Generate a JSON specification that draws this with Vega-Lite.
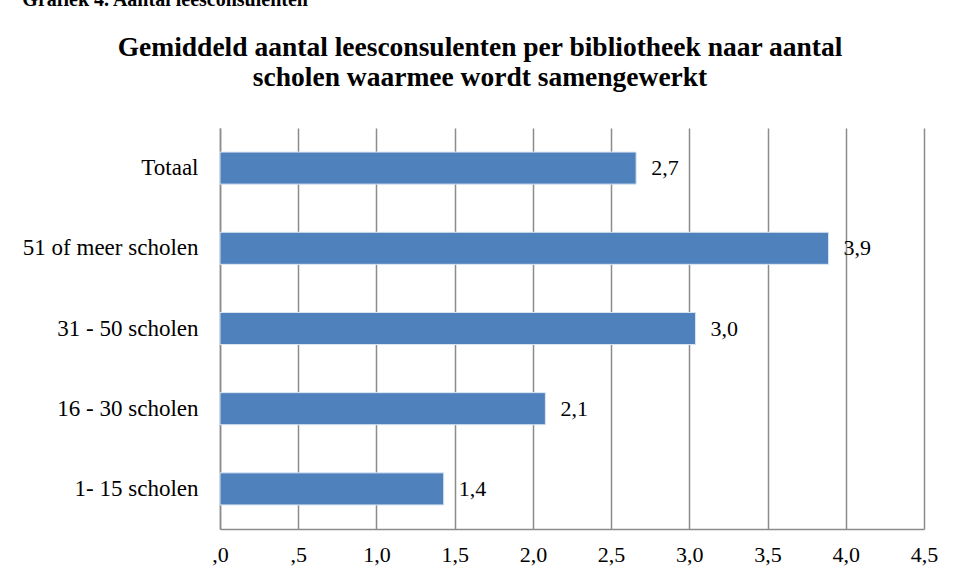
{
  "$schema": "https://vega.github.io/schema/vega-lite/v6.json",
  "padding": {"left": 22, "top": -11, "right": 5, "bottom": 5},
  "background": "white",
  "title": {
    "text": "Grafiek 4. Aantal leesconsulenten",
    "anchor": "start",
    "frame": "bounds",
    "font": "Liberation Serif",
    "fontSize": 20,
    "fontWeight": "bold",
    "color": "#000000",
    "offset": 24
  },
  "config": {
    "font": "Liberation Serif",
    "locale": {"number": {"decimal": ",", "thousands": ".", "grouping": [3], "currency": ["", " €"]}},
    "view": {"stroke": null},
    "axis": {
      "labelFont": "Liberation Serif",
      "labelFontSize": 22,
      "labelColor": "#000000",
      "ticks": false,
      "tickSize": 0,
      "domainColor": "#8c8c8c",
      "domainWidth": 1.5,
      "gridColor": "#8c8c8c",
      "gridWidth": 1.5,
      "title": null
    }
  },
  "vconcat": [
    {
      "width": 704,
      "height": 401,
      "title": {
        "text": ["Gemiddeld aantal leesconsulenten per bibliotheek naar aantal", "scholen waarmee wordt samengewerkt"],
        "anchor": "middle",
        "frame": "bounds",
        "font": "Liberation Serif",
        "fontSize": 27.5,
        "fontWeight": "bold",
        "lineHeight": 30,
        "color": "#000000",
        "offset": 37
      },
      "data": {
        "values": [
          {"groep": "Totaal", "gemiddeld": 2.66},
          {"groep": "51 of meer scholen", "gemiddeld": 3.89},
          {"groep": "31 - 50 scholen", "gemiddeld": 3.04},
          {"groep": "16 - 30 scholen", "gemiddeld": 2.08},
          {"groep": "1- 15 scholen", "gemiddeld": 1.43}
        ]
      },
      "encoding": {
        "y": {
          "field": "groep",
          "type": "nominal",
          "sort": null,
          "scale": {"paddingInner": 0.6, "paddingOuter": 0.3},
          "axis": {"grid": false, "labelPadding": 22, "labelLimit": 400, "domain": true, "labelFontSize": 23}
        },
        "x": {
          "field": "gemiddeld",
          "type": "quantitative",
          "scale": {"domain": [0, 4.5], "nice": false},
          "axis": {
            "values": [0, 0.5, 1, 1.5, 2, 2.5, 3, 3.5, 4, 4.5],
            "grid": true,
            "labelPadding": 15,
            "labelExpr": "datum.value < 1 ? ',' + substring(format(datum.value, '.1f'), 2) : replace(format(datum.value, '.1f'), '.', ',')",
            "labelFlush": false
          }
        }
      },
      "layer": [
        {
          "mark": {"type": "bar", "color": "#4F81BD", "stroke": "#dce6f2", "strokeWidth": 1}
        },
        {
          "mark": {"type": "text", "align": "left", "baseline": "middle", "dx": 15, "fontSize": 22, "font": "Liberation Serif", "color": "#000000"},
          "encoding": {
            "text": {"field": "gemiddeld", "type": "quantitative", "format": ".1f"}
          }
        }
      ]
    }
  ]
}
